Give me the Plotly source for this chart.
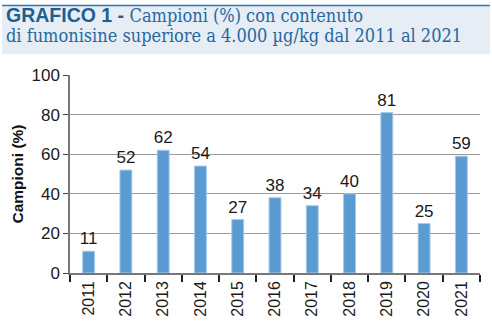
import plotly.graph_objects as go

years = ["2011", "2012", "2013", "2014", "2015", "2016", "2017", "2018", "2019", "2020", "2021"]
values = [11, 52, 62, 54, 27, 38, 34, 40, 81, 25, 59]
y_ticks = [0, 20, 40, 60, 80, 100]
title_lines = ["Campioni (%) con contenuto",
               "di fumonisine superiore a 4.000 µg/kg dal 2011 al 2021"]

W, H = 492, 328
L, R, T, B = 70, 12, 75, 55
pw, ph = W - L - R, H - T - B

def px(x):
    return (x - L) / pw

def py(y):
    return (H - B - y) / ph

SANS = "Liberation Sans"
bar_color = "#5b9bd2"

fig = go.Figure(go.Bar(
    x=years, y=values,
    marker=dict(color=bar_color, line=dict(color="#a8c9ea", width=1)),
    text=[str(v) for v in values], textposition="outside",
    constraintext="none",
    textfont=dict(family=SANS, size=17, color="#1a1a1a"),
    cliponaxis=False,
))

fig.update_layout(
    width=W, height=H,
    margin=dict(l=L, r=R, t=T, b=B, autoexpand=False),
    paper_bgcolor="white", plot_bgcolor="white",
    bargap=0.68,
    showlegend=False,
    xaxis=dict(
        type="category", tickson="boundaries", ticks="outside", ticklen=7,
        tickcolor="#222", tickwidth=1.5, tickangle=-90, automargin=False,
        tickfont=dict(family=SANS, size=16, color="#1a1a1a"),
        showline=True, linecolor="#777", linewidth=1.5, showgrid=False,
    ),
    yaxis=dict(
        range=[0, 100], tickvals=y_ticks, ticks="outside", ticklen=5, automargin=False,
        tickcolor="#444", tickfont=dict(family=SANS, size=17, color="#1a1a1a"),
        showline=True, linecolor="#777", linewidth=1.5,
        showgrid=True, gridcolor="#9a9a9a", gridwidth=1, zeroline=False,
        title=dict(text="<b>Campioni (%)</b>", standoff=4,
                   font=dict(family=SANS, size=15.5, color="#111")),
    ),
    shapes=[
        dict(type="rect", xref="paper", yref="paper",
             x0=px(2), x1=px(490), y0=py(54), y1=py(6),
             fillcolor="#e7edf5", line=dict(width=0), layer="below"),
        dict(type="line", xref="paper", yref="paper",
             x0=px(2), x1=px(490), y0=py(5.5), y1=py(5.5),
             line=dict(color="#2f79b9", width=1.5)),
    ],
    annotations=[
        dict(xref="paper", yref="paper", x=px(5), y=py(15), xanchor="left", yanchor="middle",
             align="left", showarrow=False, borderpad=0,
             text=("<span style='font-family:Liberation Sans;font-weight:bold;font-size:19.5px;color:#1c5f90'>GRAFICO 1 - </span>"
                   "<span style='font-stretch:condensed'>" + title_lines[0] + "</span>"),
             font=dict(family="DejaVu Serif", size=18, color="#2568a0")),
        dict(xref="paper", yref="paper", x=px(5), y=py(35.5), xanchor="left", yanchor="middle",
             align="left", showarrow=False, borderpad=0,
             text="<span style='font-stretch:condensed'>" + title_lines[1] + "</span>",
             font=dict(family="DejaVu Serif", size=18, color="#2568a0")),
    ],
)

fig.write_html("out.html")
